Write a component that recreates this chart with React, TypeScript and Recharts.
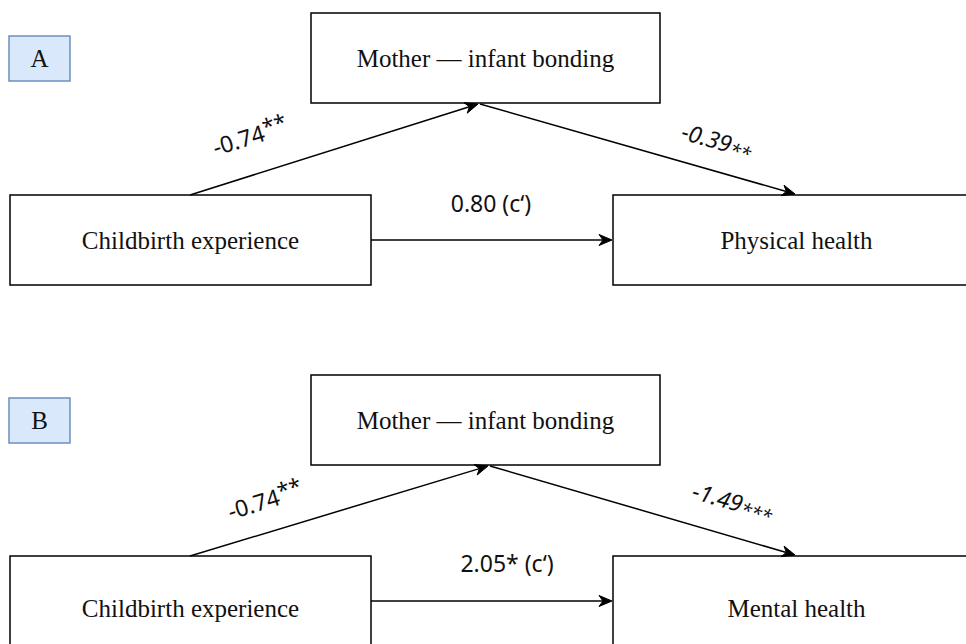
import {
  ComposedChart,
  ReferenceArea,
  ReferenceDot,
  ReferenceLine,
  Scatter,
  XAxis,
  YAxis
} from "recharts";

// diagram space = 966 x 644, y grows downward
const WIDTH = 966;
const HEIGHT = 644;

const tagLabels = ["A", "B"];
const tagX = [9, 70];
const tagY = [
  [36, 81],
  [398, 443]
];

const boxLabels = [
  "Mother — infant bonding",
  "Childbirth experience",
  "Physical health",
  "Mother — infant bonding",
  "Childbirth experience",
  "Mental health"
];
const boxX = [
  [311, 660],
  [10, 371],
  [613, 980],
  [311, 660],
  [10, 371],
  [613, 980]
];
const boxY = [
  [13, 103],
  [195, 285],
  [195, 285],
  [375, 465],
  [556, 660],
  [556, 660]
];

const arrowFrom = [
  [190, 195],
  [480, 104],
  [371, 240],
  [190, 556],
  [490, 466],
  [371, 601]
];
const arrowTo = [
  [478, 104],
  [795, 194],
  [612, 240],
  [488, 466],
  [795, 555],
  [612, 601]
];

const coefText = ["-0.74", "-0.39", "0.80 (c‘)", "-0.74", "-1.49", "2.05* (c‘)"];
const coefStars = ["**", "**", "", "**", "***", ""];
const coefStarMode = ["sup", "sub", "", "sup", "sub", ""];
const coefItalic = [false, true, false, false, true, false];
const coefAt = [
  [250, 136],
  [717, 140],
  [491, 203],
  [265, 500],
  [733, 501],
  [507, 563]
];
const coefAngle = [-17, 16, 0, -17, 16, 0];

const nodeCenters = boxLabels.map((_, i) => ({
  x: (boxX[i][0] + Math.min(boxX[i][1], WIDTH)) / 2,
  y: (boxY[i][0] + Math.min(boxY[i][1], HEIGHT)) / 2
}));

const SERIF = "'Liberation Serif', 'Times New Roman', serif";
const SANS = "'Noto Sans', 'Open Sans', sans-serif";

function Arrow(props: any) {
  const { x1, y1, x2, y2 } = props;
  const dx = x2 - x1;
  const dy = y2 - y1;
  const len = Math.sqrt(dx * dx + dy * dy) || 1;
  const ux = dx / len;
  const uy = dy / len;
  const head = 13;
  const half = 5.5;
  const notch = 4;
  const bx = x2 - ux * head;
  const by = y2 - uy * head;
  const nx = x2 - ux * (head - notch);
  const ny = y2 - uy * (head - notch);
  const pts = [
    [x2, y2],
    [bx - uy * half, by + ux * half],
    [nx, ny],
    [bx + uy * half, by - ux * half]
  ]
    .map((p) => p.join(","))
    .join(" ");
  return (
    <g>
      <line x1={x1} y1={y1} x2={nx} y2={ny} stroke="#000" strokeWidth={1.5} />
      <polygon points={pts} fill="#000" stroke="#000" strokeWidth={1} />
    </g>
  );
}

function coefShape(i: number) {
  return (p: any) => {
    const { cx, cy } = p;
    const mode = coefStarMode[i];
    return (
      <text
        x={cx}
        y={cy}
        textAnchor="middle"
        dominantBaseline="central"
        transform={`rotate(${coefAngle[i]} ${cx} ${cy})`}
        fontFamily={SANS}
        fontSize={23}
        fontStyle={coefItalic[i] ? "italic" : "normal"}
        fill="#111"
      >
        {coefText[i]}
        {coefStars[i] ? (
          <tspan fontSize={mode === "sup" ? 22 : 19} dy={mode === "sup" ? -5 : 5}>
            {coefStars[i]}
          </tspan>
        ) : null}
      </text>
    );
  };
}

export default function App() {
  return (
    <div style={{ position: "absolute", left: 0, top: 0, background: "#fff" }}>
      <ComposedChart
        width={WIDTH}
        height={HEIGHT}
        margin={{ top: 0, right: 0, bottom: 0, left: 0 }}
      >
        <XAxis type="number" dataKey="x" domain={[0, WIDTH]} hide allowDataOverflow />
        <YAxis
          type="number"
          dataKey="y"
          domain={[0, HEIGHT]}
          reversed
          hide
          allowDataOverflow
        />

        {boxLabels.map((label, i) => (
          <ReferenceArea
            key={`box-${i}`}
            x1={boxX[i][0]}
            x2={boxX[i][1]}
            y1={boxY[i][0]}
            y2={boxY[i][1]}
            ifOverflow="visible"
            fill="#ffffff"
            fillOpacity={1}
            stroke="#000"
            strokeWidth={1.5}
            label={{
              value: label,
              position: "center",
              fill: "#111",
              fontSize: 25,
              fontFamily: SERIF
            }}
          />
        ))}

        {tagLabels.map((label, i) => (
          <ReferenceArea
            key={`tag-${i}`}
            x1={tagX[0]}
            x2={tagX[1]}
            y1={tagY[i][0]}
            y2={tagY[i][1]}
            ifOverflow="visible"
            fill="#dae8fc"
            fillOpacity={1}
            stroke="#6c8ebf"
            strokeWidth={1.5}
            label={{
              value: label,
              position: "center",
              fill: "#111",
              fontSize: 25,
              fontFamily: SERIF
            }}
          />
        ))}

        {arrowFrom.map((from, i) => (
          <ReferenceLine
            key={`arrow-${i}`}
            segment={[
              { x: from[0], y: from[1] },
              { x: arrowTo[i][0], y: arrowTo[i][1] }
            ]}
            ifOverflow="visible"
            shape={Arrow}
          />
        ))}

        {coefText.map((_, i) => (
          <ReferenceDot
            key={`coef-${i}`}
            x={coefAt[i][0]}
            y={coefAt[i][1]}
            r={0}
            ifOverflow="visible"
            shape={coefShape(i)}
          />
        ))}

        <Scatter
          data={nodeCenters}
          isAnimationActive={false}
          shape={() => <g />}
          legendType="none"
        />
      </ComposedChart>
    </div>
  );
}
